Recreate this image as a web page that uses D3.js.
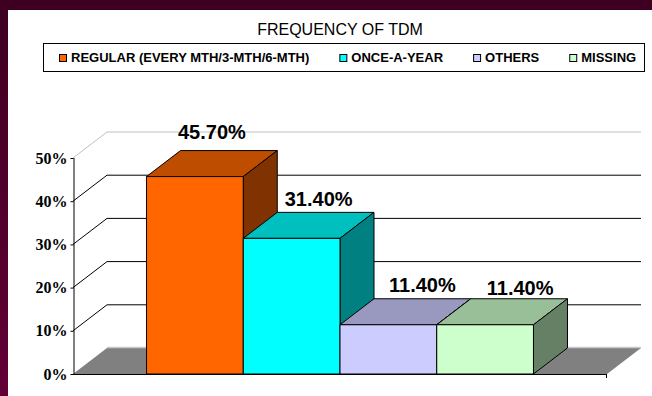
<!DOCTYPE html>
<html>
<head>
<meta charset="utf-8">
<script src="https://cdn.jsdelivr.net/npm/d3@7"></script>
<style>
  html, body { margin: 0; padding: 0; background: #4a0026; }
  svg { display: block; }
</style>
</head>
<body>
<svg class="main-svg"></svg>
<script>
var chartTitle = 'FREQUENCY OF TDM';
var categories = ['REGULAR (EVERY MTH/3-MTH/6-MTH)', 'ONCE-A-YEAR', 'OTHERS', 'MISSING'];
var values = [0.457, 0.314, 0.114, 0.114];
var valueLabels = ['45.70%', '31.40%', '11.40%', '11.40%'];
var yTicks = [0, 0.1, 0.2, 0.3, 0.4, 0.5];

var colours = ['#ff6600', '#00ffff', '#ccccff', '#ccffcc'];
// hand-placed label offsets, like the original sheet
var labelNudge = [[0, -12], [10, -6], [17, -7], [18, -4]];

var width = 652,
    height = 396,
    depthX = 34,
    depthY = -26,
    sansFont = "'Liberation Sans', Arial, sans-serif",
    serifFont = "'Liberation Serif', 'Times New Roman', serif";

var d3 = window.d3;

var svg = d3.select('.main-svg')
      .attr('width', width)
      .attr('height', height);

var grad = svg.append('defs').append('linearGradient')
      .attr('id', 'bg').attr('x1', 0).attr('y1', 0).attr('x2', 0).attr('y2', 1);
grad.append('stop').attr('offset', '0%').attr('stop-color', '#3e0020');
grad.append('stop').attr('offset', '100%').attr('stop-color', '#620036');

svg.append('rect').attr('width', width).attr('height', height).attr('fill', 'url(#bg)');
svg.append('rect').attr('x', 8).attr('y', 10).attr('width', width - 8).attr('height', height - 10).attr('fill', '#fff');

// title + legend
svg.append('text')
  .attr('x', 340).attr('y', 35)
  .attr('text-anchor', 'middle')
  .style('font-family', sansFont).style('font-size', '16px')
  .attr('fill', '#000')
  .text(chartTitle);

svg.append('rect')
  .attr('x', 43.5).attr('y', 43.5).attr('width', 601).attr('height', 28)
  .attr('fill', '#fff').attr('stroke', '#000');

var legendX = 59;
categories.forEach((c, i) => {
  svg.append('rect')
    .attr('x', legendX + 0.5).attr('y', 54.5).attr('width', 7).attr('height', 7)
    .attr('fill', colours[i]).attr('stroke', '#000');
  var t = svg.append('text')
    .attr('x', legendX + 12).attr('y', 62)
    .style('font-family', sansFont).style('font-size', '13px').style('font-weight', 'bold')
    .text(c);
  legendX += 12 + t.node().getComputedTextLength() + 30;
});

// scales
var y = d3.scaleLinear().domain([0, 0.5]).range([374, 158]);
var x = d3.scaleBand().domain(d3.range(categories.length))
      .range([73, 607]).paddingInner(0).paddingOuter(0.76);

var x0 = 73, x1 = 607, y0 = y(0);

// left wall gridlines (diagonal) and back wall gridlines
yTicks.forEach(v => {
  var top = v === d3.max(yTicks);
  var col = top ? '#c0c0c0' : '#000';
  svg.append('line')
    .attr('x1', x0).attr('y1', y(v))
    .attr('x2', x0 + depthX).attr('y2', y(v) + depthY)
    .attr('stroke', v === 0 ? 'none' : col);
  if (v > 0) {
    svg.append('line')
      .attr('x1', x0 + depthX).attr('y1', y(v) + depthY)
      .attr('x2', x1 + depthX).attr('y2', y(v) + depthY)
      .attr('stroke', col);
  }
});

// floor
svg.append('path')
  .attr('d', d3.line()([[x0, y0], [x1, y0], [x1 + depthX, y0 + depthY], [x0 + depthX, y0 + depthY]]) + 'Z')
  .attr('fill', '#808080');
svg.append('line')
  .attr('x1', x0 + depthX).attr('y1', y0 + depthY - 0.5)
  .attr('x2', x1 + depthX).attr('y2', y0 + depthY - 0.5)
  .attr('stroke', '#c8c8c8').attr('stroke-width', 1.5);

function shade(c, k) {
  var r = d3.rgb(c);
  return d3.rgb(r.r * k, r.g * k, r.b * k).toString();
}

// bars, left to right so each covers the previous side face
values.forEach((v, i) => {
  var bx = x(i), bw = x.bandwidth(), by = y(v);
  var g = svg.append('g').attr('stroke', '#000').attr('stroke-width', 1).attr('stroke-linejoin', 'round');
  g.append('path')
    .attr('d', d3.line()([[bx, by], [bx + bw, by], [bx + bw + depthX, by + depthY], [bx + depthX, by + depthY]]) + 'Z')
    .attr('fill', shade(colours[i], 0.75));
  g.append('path')
    .attr('d', d3.line()([[bx + bw, by], [bx + bw + depthX, by + depthY], [bx + bw + depthX, y0 + depthY], [bx + bw, y0]]) + 'Z')
    .attr('fill', shade(colours[i], 0.5));
  g.append('rect')
    .attr('x', bx).attr('y', by).attr('width', bw).attr('height', y0 - by)
    .attr('fill', colours[i]);
});

// value labels
values.forEach((v, i) => {
  svg.append('text')
    .attr('x', x(i) + x.bandwidth() / 2 + depthX / 2 + labelNudge[i][0])
    .attr('y', y(v) + depthY + labelNudge[i][1])
    .attr('text-anchor', 'middle')
    .style('font-family', sansFont).style('font-size', '20px').style('font-weight', 'bold')
    .text(valueLabels[i]);
});

// axes
var yAxis = d3.axisLeft(y).tickValues(yTicks).tickFormat(d3.format('.0%')).tickSize(3).tickPadding(3);
var ga = svg.append('g').attr('transform', 'translate(' + (x0 + 0.5) + ',0)').call(yAxis);
ga.select('.domain').attr('d', 'M0.5,' + y(0.5) + 'V' + y0);
ga.selectAll('text')
  .style('font-family', serifFont).style('font-size', '16px').style('font-weight', 'bold')
  .attr('fill', '#000');

svg.append('path')
  .attr('d', 'M' + x0 + ',' + (y0 + 0.5) + 'H' + x1 + 'M' + (x1 - 0.5) + ',' + y0 + 'V' + (y0 + 4))
  .attr('stroke', '#000').attr('fill', 'none');

console.log('loaded main');
</script>
</body>
</html>
